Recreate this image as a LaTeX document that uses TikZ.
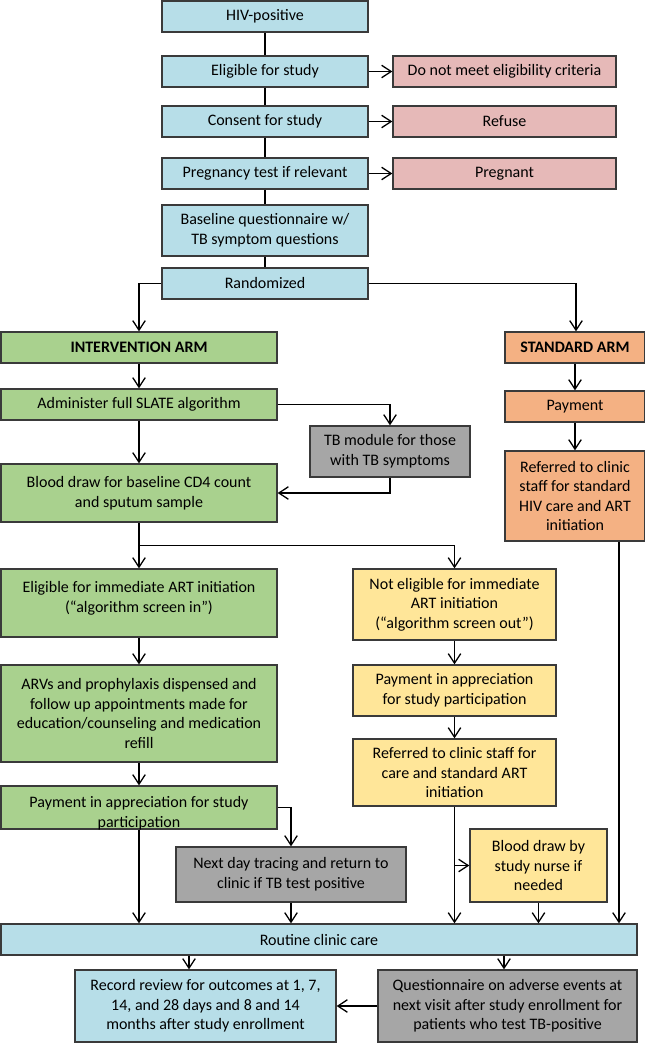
\documentclass[tikz,border=0pt]{standalone}
\usepackage{fontspec}
\setmainfont{Carlito}
\usetikzlibrary{arrows.meta,calc}
\definecolor{cblue}{HTML}{B7DEE8}
\definecolor{cpink}{HTML}{E6B9B8}
\definecolor{cgreen}{HTML}{A9D18E}
\definecolor{corange}{HTML}{F4B183}
\definecolor{cyellow}{HTML}{FFE699}
\definecolor{cgray}{HTML}{A6A6A6}
\definecolor{edge}{HTML}{3A3A3A}
\tikzset{
  bx/.style={draw=edge, line width=1.4pt, inner sep=0pt, align=center,
    font=\fontsize{16}{19.6}\selectfont},
  blue/.style={bx, fill=cblue},
  pink/.style={bx, fill=cpink},
  green/.style={bx, fill=cgreen},
  orange/.style={bx, fill=corange},
  yellow/.style={bx, fill=cyellow},
  gray/.style={bx, fill=cgray},
  wh/.style 2 args={minimum width=#1pt, minimum height=#2pt},
  ln/.style={draw=black, line width=1.3pt},
  arr/.style={ln, -{Straight Barb[length=9.5pt,width=12.5pt]}},
}
\begin{document}
\begin{tikzpicture}[x=1pt,y=-1pt]
\useasboundingbox (0,0) rectangle (645,1044);
% top column
\node[blue, wh={206}{31}] (hiv) at (265,16.5) {HIV-positive};
\node[blue, wh={206}{31}] (elig) at (265,71.5) {Eligible for study};
\node[blue, wh={206}{31}] (cons) at (265,121.5) {Consent for study};
\node[blue, wh={206}{31}] (preg) at (265,173.5) {Pregnancy test if relevant};
\node[blue, wh={206}{51}] (base) at (265,230.5) {Baseline questionnaire w/\\TB symptom questions};
\node[blue, wh={206}{31}] (rand) at (265,283.5) {Randomized};
\node[pink, wh={223}{31}] (nomeet) at (504.5,71.5) {Do not meet eligibility criteria};
\node[pink, wh={223}{31}] (refuse) at (504.5,121.5) {Refuse};
\node[pink, wh={223}{31}] (pregnant) at (504.5,173.5) {Pregnant};
% arms
\node[green, wh={276}{31}] (intv) at (139,347.5) {\bfseries INTERVENTION ARM};
\node[orange, wh={140}{31}] (std) at (575,347.5) {\bfseries STANDARD ARM};
\node[green, wh={276}{31}] (admin) at (139,404.5) {Administer full SLATE algorithm};
\node[gray, wh={160}{51}] (tbmod) at (390,451.5) {TB module for those\\with TB symptoms};
\node[green, wh={276}{58}] (blood) at (139,493) {Blood draw for baseline CD4 count\\and sputum sample};
\node[orange, wh={140}{31}] (payo) at (575,406.5) {Payment};
\node[orange, wh={140}{90}] (refo) at (575,496) {Referred to clinic\\staff for standard\\HIV care and ART\\initiation};
\node[green, wh={276}{68}, text depth=12pt] (eligimm) at (139,603) {Eligible for immediate ART initiation\\(“algorithm screen in”)};
\node[yellow, wh={203}{71}] (noteli) at (454.5,604.5) {Not eligible for immediate\\ART initiation\\(“algorithm screen out”)};
\node[green, wh={276}{97}] (arvs) at (139,713.5) {ARVs and prophylaxis dispensed and\\follow up appointments made for\\education/counseling and medication\\refill};
\node[yellow, wh={203}{51}] (payy) at (454.5,690.5) {Payment in appreciation\\for study participation};
\node[yellow, wh={203}{67}] (refy) at (454.5,772.5) {Referred to clinic staff for\\care and standard ART\\initiation};
\node[green, wh={276}{43}, text height=39pt, text depth=0pt] (payg) at (139,807.5) {Payment in appreciation for study\\participation};
\node[gray, wh={230}{55}] (next) at (291,874.5) {Next day tracing and return to\\clinic if TB test positive};
\node[yellow, wh={137}{73}] (nurse) at (538.5,865.5) {Blood draw by\\study nurse if\\needed};
\node[blue, wh={636}{31}] (routine) at (319,939.5) {Routine clinic care};
\node[blue, wh={261}{72}] (record) at (205.5,1006) {Record review for outcomes at 1, 7,\\14, and 28 days and 8 and 14\\months after study enrollment};
\node[gray, wh={259}{72}] (quest) at (507.5,1006) {Questionnaire on adverse events at\\next visit after study enrollment for\\patients who test TB-positive};
% connectors top
\draw[ln] (hiv) -- (elig);
\draw[ln] (elig) -- (cons);
\draw[ln] (cons) -- (preg);
\draw[ln] (preg) -- (base);
\draw[ln] (base) -- (rand);
\draw[arr] (elig) -- (nomeet);
\draw[arr] (cons) -- (refuse);
\draw[arr] (preg) -- (pregnant);
\draw[arr] (rand.west) -| (intv.north);
\draw[arr] (rand.east) -| ([xshift=1pt]std.north);
% intervention arm
\draw[arr] (intv) -- (admin);
\draw[arr] (admin) -- (blood);
\draw[arr] (admin.east) -| (tbmod.north);
\draw[arr] (tbmod.south) |- (blood.east);
\draw[arr] (blood) -- (eligimm);
\coordinate (split) at ($(blood.south)!0.5!(eligimm.north)$);
\draw[arr] (split) -| (noteli.north);
\draw[arr] (eligimm) -- (arvs);
\draw[arr] (arvs) -- (payg);
\draw[arr] (payg.south) -- (payg.south |- routine.north);
\draw[arr] (payg.east) -| (next.north);
\draw[arr] (next.south) -- (next.south |- routine.north);
% not eligible
\draw[arr] (noteli) -- (payy);
\draw[arr] (payy) -- (refy);
\draw[arr] (refy.south) -- (refy.south |- routine.north);
\coordinate (nb) at (refy.south |- nurse.west);
\draw[arr] (nb) -- (nurse.west);
\draw[arr] (nurse.south) -- (nurse.south |- routine.north);
% standard arm
\draw[arr] (std) -- (payo);
\draw[arr] (payo) -- (refo);
\draw[arr] ([xshift=44pt]refo.south) -- ([xshift=44pt]refo.south |- routine.north);
% bottom
\draw[arr] ([xshift=-16.5pt]record.north |- routine.south) -- ([xshift=-16.5pt]record.north);
\draw[arr] ([xshift=-3.5pt]quest.north |- routine.south) -- ([xshift=-3.5pt]quest.north);
\draw[arr] (quest.west) -- (record.east);
\end{tikzpicture}
\end{document}
